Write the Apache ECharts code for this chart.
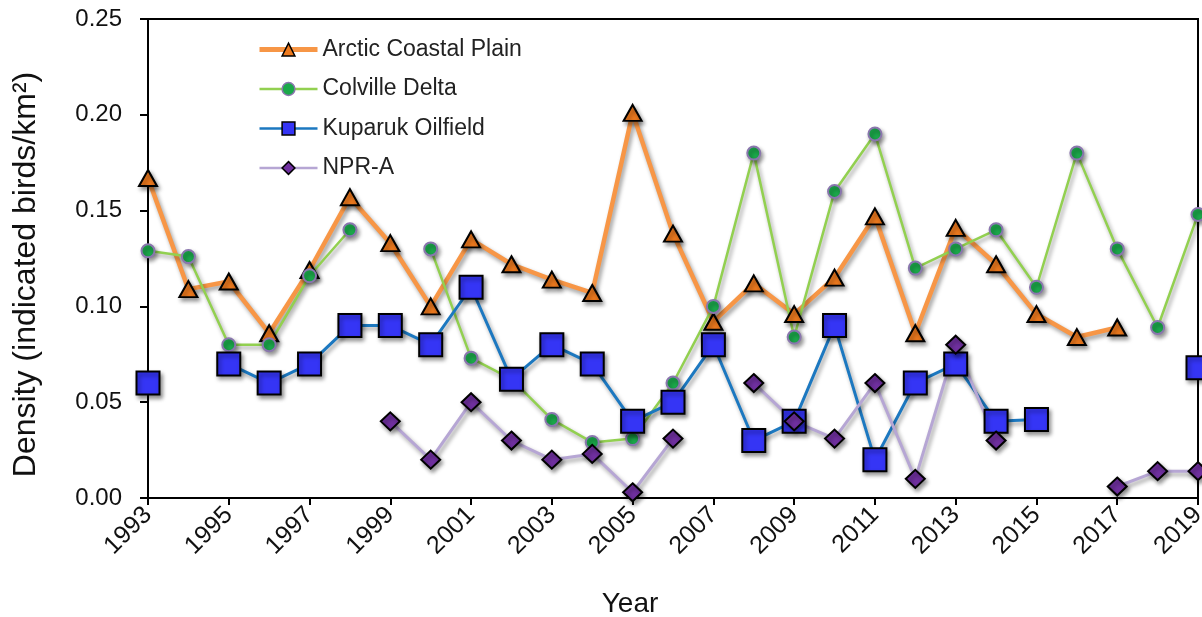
<!DOCTYPE html>
<html>
<head>
<meta charset="utf-8">
<script src="https://cdn.jsdelivr.net/npm/echarts@6/dist/echarts.min.js"></script>
<style>
  html, body { margin: 0; padding: 0; background: #fff; }
  #chart { width: 1202px; height: 617px; }
</style>
</head>
<body>
<div id="chart"></div>
<script>
// Survey years and densities (indicated birds/km²); null = not surveyed
const years = [1993, 1994, 1995, 1996, 1997, 1998, 1999, 2000, 2001, 2002, 2003, 2004, 2005, 2006,
               2007, 2008, 2009, 2010, 2011, 2012, 2013, 2014, 2015, 2016, 2017, 2018, 2019];

const arcticCoastalPlain = [0.167, 0.109, 0.113, 0.086, 0.119, 0.157, 0.133, 0.100, 0.135, 0.122,
                            0.114, 0.107, 0.201, 0.138, 0.092, 0.112, 0.096, 0.115, 0.147, 0.086,
                            0.141, 0.122, 0.096, 0.084, 0.089, null, null];

const colvilleDelta = [0.129, 0.126, 0.080, 0.080, 0.116, 0.140, null, 0.130, 0.073, 0.062,
                       0.041, 0.029, 0.031, 0.060, 0.100, 0.180, 0.084, 0.160, 0.190, 0.120,
                       0.130, 0.140, 0.110, 0.180, 0.130, 0.089, 0.148];

const kuparukOilfield = [0.060, null, 0.070, 0.060, 0.070, 0.090, 0.090, 0.080, 0.110, 0.062,
                         0.080, 0.070, 0.040, 0.050, 0.080, 0.030, 0.040, 0.090, 0.020, 0.060,
                         0.070, 0.040, 0.041, null, null, null, 0.068];

const npra = [null, null, null, null, null, null, 0.040, 0.020, 0.050, 0.030,
              0.020, 0.023, 0.003, 0.031, null, 0.060, 0.040, 0.031, 0.060, 0.010,
              0.080, 0.030, null, null, 0.006, 0.014, 0.014];

const seriesNames = ['Arctic Coastal Plain', 'Colville Delta', 'Kuparuk Oilfield', 'NPR-A'];

const pairs = vals => years.map((y, i) => [y, vals[i]]);

const FONT = 'Liberation Sans, Arial, sans-serif';

const shadow = {
  shadowColor: 'rgba(0,0,0,0.4)',
  shadowBlur: 4,
  shadowOffsetX: 2,
  shadowOffsetY: 3
};

const chart = echarts.init(document.getElementById('chart'), null, { renderer: 'canvas' });

chart.setOption({
  backgroundColor: '#ffffff',
  animation: false,
  grid: {
    left: 148, right: 4, top: 19, bottom: 119,
    outerBoundsMode: 'none',
    containLabel: false,
    show: true, borderColor: '#000', borderWidth: 2, backgroundColor: 'transparent'
  },
  legend: {
    orient: 'vertical',
    left: 252, top: 33,
    itemWidth: 58, itemHeight: 16, itemGap: 16.5,
    data: [
      { name: seriesNames[0], lineStyle: { width: 5 }, itemStyle: { borderWidth: 1.5 } },
      { name: seriesNames[1], lineStyle: { width: 2.5 }, itemStyle: { borderWidth: 1.5 } },
      { name: seriesNames[2], lineStyle: { width: 2.5 }, itemStyle: { borderWidth: 1.5 } },
      { name: seriesNames[3], lineStyle: { width: 2.5 }, itemStyle: { borderWidth: 1.5 } }
    ],
    textStyle: { fontFamily: FONT, fontSize: 23, color: '#222' }
  },
  xAxis: {
    type: 'value',
    min: 1993, max: 2019, interval: 2,
    name: 'Year',
    nameLocation: 'middle',
    nameGap: 92,
    nameTextStyle: { fontFamily: FONT, fontSize: 28, color: '#111', padding: [0, 86, 0, 0] },
    axisLine: { show: true, lineStyle: { color: '#000', width: 2 } },
    axisTick: { show: true, length: 7, lineStyle: { color: '#000', width: 2 } },
    splitLine: { show: false },
    axisLabel: {
      rotate: 45, margin: 13,
      fontFamily: FONT, fontSize: 25, color: '#111',
      formatter: v => String(v)
    }
  },
  yAxis: {
    type: 'value',
    min: 0, max: 0.25, interval: 0.05,
    name: 'Density (indicated birds/km²)',
    nameLocation: 'middle',
    nameGap: 106,
    nameRotate: 90,
    nameTextStyle: { fontFamily: FONT, fontSize: 32, color: '#111', padding: [0, 32, 0, 0] },
    axisLine: { show: true, lineStyle: { color: '#000', width: 2 } },
    axisTick: { show: true, length: 8, lineStyle: { color: '#000', width: 2 } },
    splitLine: { show: false },
    axisLabel: {
      margin: 26,
      fontFamily: FONT, fontSize: 24, color: '#111',
      formatter: v => v.toFixed(2)
    }
  },
  series: [
    {
      name: seriesNames[0], type: 'line', data: pairs(arcticCoastalPlain),
      symbol: 'triangle', symbolSize: [18, 16],
      lineStyle: Object.assign({ color: '#F79646', width: 4.5 }, shadow),
      itemStyle: Object.assign({ color: '#EE7A1E', borderColor: '#000', borderWidth: 2 }, shadow)
    },
    {
      name: seriesNames[1], type: 'line', data: pairs(colvilleDelta),
      symbol: 'circle', symbolSize: 13,
      lineStyle: Object.assign({ color: '#92D050', width: 2.5 }, shadow),
      itemStyle: Object.assign({ color: '#1BA84A', borderColor: '#8A76AE', borderWidth: 2 }, shadow)
    },
    {
      name: seriesNames[2], type: 'line', data: pairs(kuparukOilfield),
      symbol: 'rect', symbolSize: 23,
      lineStyle: Object.assign({ color: '#1C78C0', width: 3 }, shadow),
      itemStyle: Object.assign({ color: '#3535F5', borderColor: '#000', borderWidth: 2 }, shadow)
    },
    {
      name: seriesNames[3], type: 'line', data: pairs(npra),
      symbol: 'diamond', symbolSize: [19, 18],
      lineStyle: Object.assign({ color: '#B6A6D4', width: 3 }, shadow),
      itemStyle: Object.assign({ color: '#7030A0', borderColor: '#000', borderWidth: 2 }, shadow)
    }
  ]
});
</script>
</body>
</html>
